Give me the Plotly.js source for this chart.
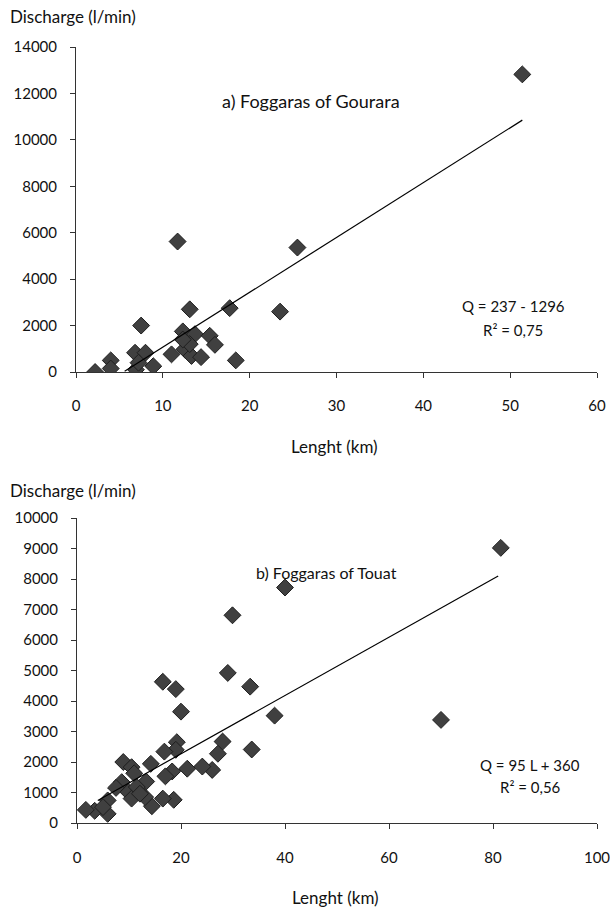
<!DOCTYPE html>
<html><head><meta charset="utf-8">
<script src="https://cdn.plot.ly/plotly-3.0.1.min.js"></script>
<style>body{margin:0;background:#fff}#c{width:610px;height:915px}</style>
</head><body><div id="c"></div>
<script>
// a) Foggaras of Gourara
const gourLength = [2.2,4.0,4.0,7.5,6.8,8.0,6.9,7.2,8.9,13.1,17.7,11.0,12.3,13.7,15.4,16.0,12.5,13.3,14.4,13.1,18.4,12.3,11.7,25.5,23.5,51.4];
const gourDischarge = [0,500,150,2000,830,830,100,400,250,2700,2750,760,1750,1630,1560,1170,980,690,640,1200,500,1400,5620,5360,2600,12820];
const gourTrendX = [5.6,51.4];
const gourTrendY = [30,10850];
// b) Foggaras of Touat
const touatLength = [40.0,29.9,29.0,33.3,16.5,19.0,20.0,38.0,33.6,28.0,27.1,26.0,24.1,21.2,19.2,19.0,16.8,18.3,17.0,18.6,16.5,14.4,14.2,13.3,13.1,8.9,10.5,11.0,8.6,7.5,9.9,10.5,11.5,12.1,5.9,5.9,3.4,1.7,5.0,70.0,81.5];
const touatDischarge = [7720,6810,4920,4470,4630,4390,3650,3520,2410,2670,2270,1740,1850,1780,2650,2400,2340,1690,1530,760,800,550,1940,1360,850,2000,1830,1630,1340,1150,1010,800,1180,960,740,300,400,430,520,3380,9020];
const touatTrendX = [4,81];
const touatTrendY = [740,8100];

const F = 'Lato, "Open Sans", sans-serif';
const mk = {symbol:'diamond', size:13, color:'#404040', line:{color:'#1e1e1e', width:1}};
const data = [
  {x:gourLength, y:gourDischarge, type:'scatter', mode:'markers', marker:mk, xaxis:'x', yaxis:'y'},
  {x:gourTrendX, y:gourTrendY, type:'scatter', mode:'lines', line:{color:'#000', width:1.2}, xaxis:'x', yaxis:'y'},
  {x:touatLength, y:touatDischarge, type:'scatter', mode:'markers', marker:mk, xaxis:'x2', yaxis:'y2'},
  {x:touatTrendX, y:touatTrendY, type:'scatter', mode:'lines', line:{color:'#000', width:1.2}, xaxis:'x2', yaxis:'y2'}
];
const axBase = {showgrid:false, zeroline:false, showline:true, linecolor:'#333', linewidth:1, ticks:'outside', ticklen:5, tickcolor:'#333', tickformat:'d', ticklabeloverflow:'allow', tickfont:{family:F, size:15, color:'#111'}, fixedrange:true};
const layout = {
  width:610, height:915, margin:{l:0, r:0, t:0, b:0}, showlegend:false,
  paper_bgcolor:'#fff', plot_bgcolor:'#fff',
  xaxis: Object.assign({}, axBase, {domain:[76/610, 597/610], range:[0,60], dtick:10, anchor:'y', ticklabelstandoff:15}),
  yaxis: Object.assign({}, axBase, {domain:[1-372/915, 1-47/915], range:[0,14000], dtick:2000, anchor:'x', ticklabelstandoff:10}),
  xaxis2: Object.assign({}, axBase, {domain:[77/610, 597/610], range:[0,100], dtick:20, anchor:'y2', ticklabelstandoff:16}),
  yaxis2: Object.assign({}, axBase, {domain:[1-823/915, 1-518/915], range:[0,10000], dtick:1000, anchor:'x2', ticklabelstandoff:10}),
  annotations: [
    {text:'Discharge (l/min)', xref:'paper', yref:'paper', x:8/610, y:1-17/915, xanchor:'left', yanchor:'middle', showarrow:false, font:{family:F, size:17, color:'#111'}},
    {text:'Lenght (km)', xref:'paper', yref:'paper', x:334/610, y:1-447/915, xanchor:'center', yanchor:'middle', showarrow:false, font:{family:F, size:17, color:'#111'}},
    {text:'a) Foggaras of Gourara', xref:'paper', yref:'paper', x:311/610, y:1-101/915, xanchor:'center', yanchor:'middle', showarrow:false, font:{family:F, size:18, color:'#111'}},
    {text:'Q = 237 - 1296', xref:'paper', yref:'paper', x:513/610, y:1-306/915, xanchor:'center', yanchor:'middle', showarrow:false, font:{family:F, size:15, color:'#111'}},
    {text:'R² = 0,75', xref:'paper', yref:'paper', x:513/610, y:1-330/915, xanchor:'center', yanchor:'middle', showarrow:false, font:{family:F, size:15, color:'#111'}},
    {text:'Discharge (l/min)', xref:'paper', yref:'paper', x:8/610, y:1-490/915, xanchor:'left', yanchor:'middle', showarrow:false, font:{family:F, size:17, color:'#111'}},
    {text:'Lenght (km)', xref:'paper', yref:'paper', x:335/610, y:1-897/915, xanchor:'center', yanchor:'middle', showarrow:false, font:{family:F, size:17, color:'#111'}},
    {text:'b) Foggaras of Touat', xref:'paper', yref:'paper', x:326/610, y:1-572/915, xanchor:'center', yanchor:'middle', showarrow:false, font:{family:F, size:16, color:'#111'}},
    {text:'Q = 95 L + 360', xref:'paper', yref:'paper', x:530/610, y:1-765/915, xanchor:'center', yanchor:'middle', showarrow:false, font:{family:F, size:15, color:'#111'}},
    {text:'R² = 0,56', xref:'paper', yref:'paper', x:530/610, y:1-787/915, xanchor:'center', yanchor:'middle', showarrow:false, font:{family:F, size:15, color:'#111'}}
  ]
};
Plotly.newPlot('c', data, layout, {displayModeBar:false, staticPlot:true});
</script></body></html>
